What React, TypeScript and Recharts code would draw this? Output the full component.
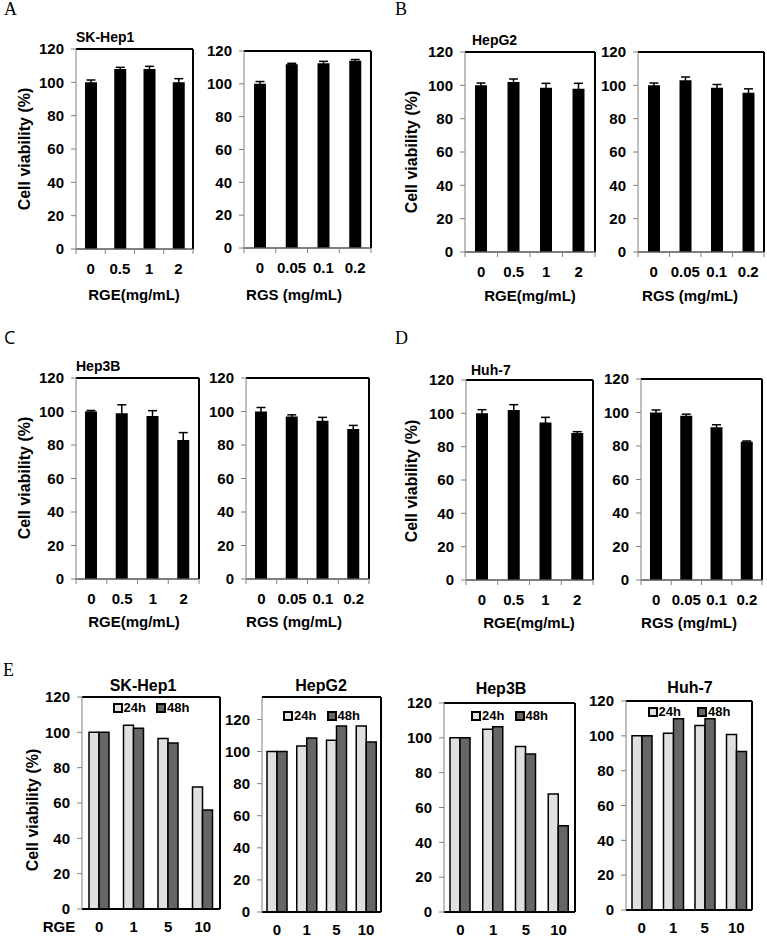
import React from "react";
import { BarChart, Bar, XAxis, YAxis, ErrorBar, Legend, ReferenceLine } from "recharts";

const SANS = '"Liberation Sans", Arial, sans-serif';
const SERIF = '"Liberation Serif", "Times New Roman", serif';

// x categories
const RGE_DOSES = ["0", "0.5", "1", "2"];
const RGS_DOSES = ["0", "0.05", "0.1", "0.2"];
const RGE_TIME_DOSES = ["0", "1", "5", "10"];
const Y_TICKS = [0, 20, 40, 60, 80, 100, 120];

// A - SK-Hep1
const SKHEP1_RGE = [100, 108, 108, 100];
const SKHEP1_RGE_ERR = [1.4, 1.0, 1.6, 2.2];
const SKHEP1_RGS = [100, 112, 112.5, 114];
const SKHEP1_RGS_ERR = [1.4, 0.5, 1.2, 0.8];
// B - HepG2
const HEPG2_RGE = [100, 102, 98.6, 98];
const HEPG2_RGE_ERR = [1.4, 1.8, 2.6, 3.2];
const HEPG2_RGS = [100, 103, 98.5, 95.5];
const HEPG2_RGS_ERR = [1.4, 2.0, 2.0, 2.4];
// C - Hep3B
const HEP3B_RGE = [100, 99, 97.3, 83];
const HEP3B_RGE_ERR = [0.6, 5.0, 3.2, 4.4];
const HEP3B_RGS = [100, 97, 94.5, 89.5];
const HEP3B_RGS_ERR = [2.4, 1.0, 2.0, 2.2];
// D - Huh-7
const HUH7_RGE = [100, 102, 94.5, 88.2];
const HUH7_RGE_ERR = [2.2, 3.2, 3.1, 0.8];
const HUH7_RGS = [100, 98, 91.2, 82.5];
const HUH7_RGS_ERR = [1.5, 1.0, 1.5, 0.5];
// E - 24h / 48h
const SKHEP1_24H = [100, 104, 96.5, 69];
const SKHEP1_48H = [100, 102.3, 94, 56];
const HEPG2_24H = [100, 103.5, 107, 116];
const HEPG2_48H = [100, 108.5, 116, 106];
const HEP3B_24H = [100, 105, 95, 67.8];
const HEP3B_48H = [100, 106.3, 90.7, 49.5];
const HUH7_24H = [100, 101.5, 106, 100.8];
const HUH7_48H = [100, 109.8, 109.8, 91];

const ML = 50; // y axis width
const MT = 12;
const MR = 4;
const XH = 40;

const tickText = { fill: "#000", fontSize: 15, fontWeight: 700, fontFamily: SANS };

function DoseTick(props: any) {
  const { x, y, payload, index, count, width } = props;
  const half = payload.offset || width / count / 2;
  return (
    <g>
      <line x1={x - half} x2={x - half} y1={y} y2={y + 5} stroke="#808080" />
      {index === count - 1 && (
        <line x1={x + half} x2={x + half} y1={y} y2={y + 5} stroke="#808080" />
      )}
      <text x={x} y={y + 19} textAnchor="middle" dominantBaseline="central" {...tickText}>
        {payload.value}
      </text>
    </g>
  );
}

function DoseChart({ box, doses, values, errors }: any) {
  const [x0, y0, x1, y1] = box;
  const data = doses.map((d: string, i: number) => ({ dose: d, v: values[i], err: errors[i] }));
  return (
    <div style={{ position: "absolute", left: x0 - ML, top: y0 - MT }}>
      <BarChart
        width={x1 - x0 + ML + MR}
        height={y1 - y0 + MT + XH}
        data={data}
        margin={{ top: MT, right: MR, left: 0, bottom: 0 }}
        barSize={12}
      >
        <XAxis
          dataKey="dose"
          height={XH}
          interval={0}
          tickSize={0}
          tickMargin={0}
          tickLine={false}
          axisLine={{ stroke: "#555", strokeWidth: 1.5 }}
          tick={(p: any) => <DoseTick {...p} count={doses.length} />}
        />
        <YAxis
          width={ML}
          domain={[0, 120]}
          ticks={Y_TICKS}
          interval={0}
          tickSize={5}
          tickMargin={7}
          tickLine={{ stroke: "#808080" }}
          axisLine={{ stroke: "#808080" }}
          tick={tickText}
        />
        {/* plot frame: top and right */}
        <ReferenceLine y={120} stroke="#000" strokeWidth={2} />
        <ReferenceLine x={doses[doses.length - 1]} position="end" stroke="#000" strokeWidth={2} />
        <Bar dataKey="v" fill="#000" isAnimationActive={false}>
          <ErrorBar dataKey="err" width={4.5} stroke="#000" strokeWidth={1.5} direction="y" isAnimationActive={false} />
        </Bar>
      </BarChart>
    </div>
  );
}

function TimeLegend({ payload, gap }: any) {
  return (
    <div
      style={{
        display: "flex",
        justifyContent: "center",
        gap,
        fontFamily: SANS,
        fontWeight: 700,
        fontSize: 13,
        lineHeight: "15px",
      }}
    >
      {(payload || []).map((e: any) => (
        <span key={e.value} style={{ display: "flex", alignItems: "center" }}>
          <span
            style={{
              width: 6,
              height: 6,
              border: "2px solid #000",
              background: e.payload?.fill ?? e.color,
              marginRight: 1,
            }}
          />
          {e.value}
        </span>
      ))}
    </div>
  );
}

function TimeChart({ box, yMax, h24, h48, legendY, gap = 10 }: any) {
  const [x0, y0, x1, y1] = box;
  const data = RGE_TIME_DOSES.map((d, i) => ({ dose: d, a: h24[i], b: h48[i] }));
  return (
    <div style={{ position: "absolute", left: x0 - ML, top: y0 - MT }}>
      <BarChart
        width={x1 - x0 + ML + MR}
        height={y1 - y0 + MT + XH}
        data={data}
        margin={{ top: MT, right: MR, left: 0, bottom: 0 }}
        barSize={10}
        barGap={0}
      >
        <XAxis
          dataKey="dose"
          height={XH}
          interval={0}
          tickSize={0}
          tickMargin={12}
          tickLine={false}
          axisLine={{ stroke: "#000", strokeWidth: 2 }}
          tick={tickText}
        />
        <YAxis
          width={ML}
          domain={[0, yMax]}
          ticks={Y_TICKS}
          interval={0}
          tickSize={5}
          tickMargin={7}
          tickLine={{ stroke: "#808080" }}
          axisLine={{ stroke: "#808080" }}
          tick={tickText}
        />
        <ReferenceLine y={yMax} stroke="#000" strokeWidth={2} />
        <ReferenceLine x={RGE_TIME_DOSES[RGE_TIME_DOSES.length - 1]} position="end" stroke="#000" strokeWidth={2} />
        <Legend
          layout="horizontal"
          verticalAlign="middle"
          align="center"
          wrapperStyle={{ top: legendY - (y0 - MT) - 8, left: ML, width: x1 - x0 }}
          content={(p: any) => <TimeLegend {...p} gap={gap} />}
        />
        <Bar dataKey="a" name="24h" fill="#e0e0e0" stroke="#000" strokeWidth={1.5} isAnimationActive={false} />
        <Bar dataKey="b" name="48h" fill="#666666" stroke="#000" strokeWidth={1.5} isAnimationActive={false} />
      </BarChart>
    </div>
  );
}

function Txt({ x, y, text, size = 15, bold = true, family = SANS, anchor = "middle", rotate = 0 }: any) {
  const tx = anchor === "middle" ? "-50%" : anchor === "end" ? "-100%" : "0%";
  return (
    <div
      style={{
        position: "absolute",
        left: x,
        top: y,
        transform: `translate(${tx}, -50%) rotate(${rotate}deg)`,
        fontFamily: family,
        fontSize: size,
        fontWeight: bold ? 700 : 400,
        lineHeight: 1,
        whiteSpace: "nowrap",
        color: "#000",
      }}
    >
      {text}
    </div>
  );
}

export default function App() {
  return (
    <div style={{ position: "absolute", left: 0, top: 0, width: 767, height: 937, background: "#fff", overflow: "hidden" }}>
      {/* panel letters */}
      <Txt x={4} y={9} text="A" size={18} bold={false} family={SERIF} anchor="start" />
      <Txt x={395} y={9} text="B" size={18} bold={false} family={SERIF} anchor="start" />
      <Txt x={4} y={337} text="C" size={18} bold={false} family='"Open Sans", sans-serif' anchor="start" />
      <Txt x={395} y={338} text="D" size={18} bold={false} family={SERIF} anchor="start" />
      <Txt x={3} y={670} text="E" size={18} bold={false} family={SERIF} anchor="start" />

      {/* A */}
      <Txt x={76} y={37} text="SK-Hep1" size={14} anchor="start" />
      <Txt x={25} y={149} text="Cell viability (%)" size={16} rotate={-90} />
      <DoseChart box={[76, 49, 193, 249]} doses={RGE_DOSES} values={SKHEP1_RGE} errors={SKHEP1_RGE_ERR} />
      <DoseChart box={[244, 51, 371, 248]} doses={RGS_DOSES} values={SKHEP1_RGS} errors={SKHEP1_RGS_ERR} />
      <Txt x={134} y={294} text="RGE(mg/mL)" />
      <Txt x={294} y={294} text="RGS (mg/mL)" />

      {/* B */}
      <Txt x={472} y={40} text="HepG2" size={14} anchor="start" />
      <Txt x={412} y={152} text="Cell viability (%)" size={16} rotate={-90} />
      <DoseChart box={[465, 52, 595, 252]} doses={RGE_DOSES} values={HEPG2_RGE} errors={HEPG2_RGE_ERR} />
      <DoseChart box={[638, 52, 764, 252]} doses={RGS_DOSES} values={HEPG2_RGS} errors={HEPG2_RGS_ERR} />
      <Txt x={530} y={295} text="RGE(mg/mL)" />
      <Txt x={690} y={295} text="RGS (mg/mL)" />

      {/* C */}
      <Txt x={76} y={366} text="Hep3B" size={14} anchor="start" />
      <Txt x={25} y={478} text="Cell viability (%)" size={16} rotate={-90} />
      <DoseChart box={[76, 378, 199, 579]} doses={RGE_DOSES} values={HEP3B_RGE} errors={HEP3B_RGE_ERR} />
      <DoseChart box={[246, 378, 369, 579]} doses={RGS_DOSES} values={HEP3B_RGS} errors={HEP3B_RGS_ERR} />
      <Txt x={134} y={621} text="RGE(mg/mL)" />
      <Txt x={294} y={621} text="RGS (mg/mL)" />

      {/* D */}
      <Txt x={471} y={370} text="Huh-7" size={14} anchor="start" />
      <Txt x={412} y={481} text="Cell viability (%)" size={16} rotate={-90} />
      <DoseChart box={[466, 380, 593, 580]} doses={RGE_DOSES} values={HUH7_RGE} errors={HUH7_RGE_ERR} />
      <DoseChart box={[641, 379, 762, 580]} doses={RGS_DOSES} values={HUH7_RGS} errors={HUH7_RGS_ERR} />
      <Txt x={529} y={622} text="RGE(mg/mL)" />
      <Txt x={689} y={622} text="RGS (mg/mL)" />

      {/* E */}
      <Txt x={143} y={686} text="SK-Hep1" size={16} />
      <Txt x={321} y={686} text="HepG2" size={16} />
      <Txt x={501} y={689} text="Hep3B" size={16} />
      <Txt x={690} y={688} text="Huh-7" size={16} />
      <Txt x={33} y={810} text="Cell viability (%)" size={16} rotate={-90} />
      <TimeChart box={[82, 697, 220, 909]} yMax={120} h24={SKHEP1_24H} h48={SKHEP1_48H} legendY={708} />
      <TimeChart box={[262, 697, 381, 912]} yMax={134} h24={HEPG2_24H} h48={HEPG2_48H} legendY={716} />
      <TimeChart box={[444, 703, 575, 912]} yMax={120} h24={HEP3B_24H} h48={HEP3B_48H} legendY={716} />
      <TimeChart box={[626, 701, 752, 910]} yMax={120} h24={HUH7_24H} h48={HUH7_48H} legendY={712} gap={16} />
      <Txt x={59} y={926} text="RGE" />
    </div>
  );
}
